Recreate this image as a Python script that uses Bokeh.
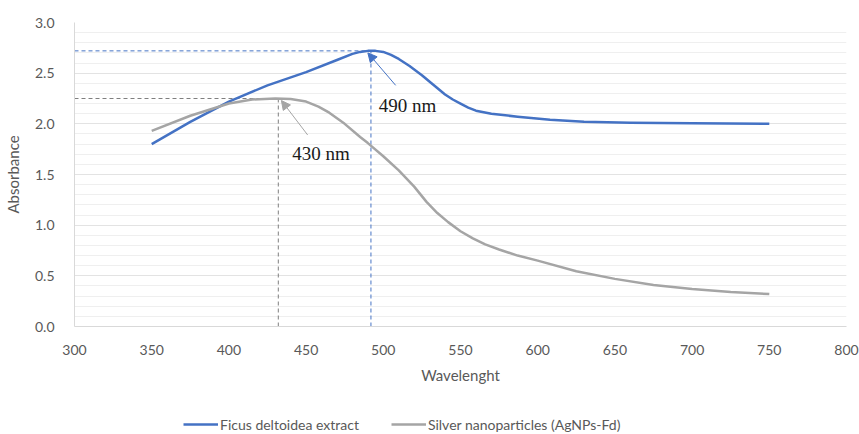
from bokeh.plotting import figure
from bokeh.layouts import column
from bokeh.models import (Range1d, Legend, LegendItem, Arrow, NormalHead,
                          SingleIntervalTicker, Label, NumeralTickFormatter)
from bokeh.embed import file_html
from bokeh.resources import INLINE

# Data
blue_wl = [350, 375, 400, 425, 450, 470, 480, 485, 490, 495, 500, 505, 510, 517, 525, 532, 540, 545, 550, 555, 560, 570, 587, 608, 630, 660, 700, 750]
blue_abs = [1.80, 2.02, 2.22, 2.38, 2.51, 2.63, 2.69, 2.71, 2.72, 2.72, 2.71, 2.68, 2.64, 2.57, 2.48, 2.39, 2.29, 2.24, 2.20, 2.16, 2.13, 2.10, 2.07, 2.04, 2.02, 2.01, 2.005, 2.00]

grey_wl = [350, 375, 400, 415, 430, 440, 450, 458, 465, 475, 485, 490, 500, 510, 520, 528, 535, 542, 550, 558, 566, 575, 587, 600, 625, 650, 675, 700, 725, 750]
grey_abs = [1.93, 2.08, 2.20, 2.24, 2.25, 2.245, 2.22, 2.17, 2.11, 2.00, 1.87, 1.81, 1.68, 1.54, 1.38, 1.23, 1.12, 1.03, 0.94, 0.87, 0.81, 0.76, 0.70, 0.65, 0.545, 0.47, 0.41, 0.37, 0.34, 0.32]

blue_peak = (492, 2.72)
grey_peak = (432, 2.25)
blue_label = "490 nm"
grey_label = "430 nm"
series_names = ["Ficus deltoidea extract", "Silver nanoparticles (AgNPs-Fd)"]

BLUE = "#4472C4"
GREY = "#A5A5A5"
TXT = "#595959"
FONT = "Lato"

p = figure(width=859, height=400, output_backend="svg", toolbar_location=None,
           x_range=Range1d(300, 800), y_range=Range1d(0, 3),
           min_border_left=74, min_border_right=13, min_border_top=22, min_border_bottom=74,
           x_axis_label="Wavelenght", y_axis_label="Absorbance")
p.outline_line_color = None
p.background_fill_color = "white"

p.xaxis.ticker = SingleIntervalTicker(interval=50)
p.yaxis.ticker = SingleIntervalTicker(interval=0.5, num_minor_ticks=5)
p.yaxis.formatter = NumeralTickFormatter(format="0.0")
for ax in (p.xaxis[0], p.yaxis[0]):
    ax.axis_line_color = "#D9D9D9"
    ax.major_tick_line_color = None
    ax.minor_tick_line_color = None
    ax.major_label_text_color = TXT
    ax.major_label_text_font = FONT
    ax.major_label_text_font_size = "14px"
    ax.axis_label_text_color = TXT
    ax.axis_label_text_font = FONT
    ax.axis_label_text_font_size = "15px"
    ax.axis_label_text_font_style = "normal"
p.xaxis.major_label_standoff = 12
p.yaxis.major_label_standoff = 14
p.xaxis.axis_label_standoff = 8
p.yaxis.axis_label_standoff = 10

p.xgrid.grid_line_color = None
p.ygrid.grid_line_color = "#E3E3E3"
p.ygrid.minor_grid_line_color = "#EFEFEF"

# dashed guides
p.line([300, blue_peak[0]], [blue_peak[1], blue_peak[1]], line_color=BLUE, line_dash="4 3", line_width=1)
p.line([blue_peak[0], blue_peak[0]], [0, blue_peak[1]], line_color=BLUE, line_dash="4 3", line_width=1)
p.line([300, grey_peak[0]], [grey_peak[1], grey_peak[1]], line_color="#7F7F7F", line_dash="4 3", line_width=1)
p.line([grey_peak[0], grey_peak[0]], [0, grey_peak[1]], line_color="#7F7F7F", line_dash="4 3", line_width=1)

r1 = p.line(blue_wl, blue_abs, line_color=BLUE, line_width=2.5, line_join="round")
r2 = p.line(grey_wl, grey_abs, line_color=GREY, line_width=2.5, line_join="round")

p.add_layout(Arrow(end=NormalHead(size=9, fill_color=BLUE, line_color=BLUE),
                   x_start=508, y_start=2.38, x_end=490, y_end=2.70,
                   line_color=BLUE, line_width=1))
p.add_layout(Arrow(end=NormalHead(size=9, fill_color=GREY, line_color=GREY),
                   x_start=451, y_start=1.89, x_end=434, y_end=2.23,
                   line_color=GREY, line_width=1))

p.add_layout(Label(x=497, y=2.18, text=blue_label, text_font="Liberation Serif",
                   text_font_size="19px", text_color="#1a1a1a", text_baseline="middle"))
p.add_layout(Label(x=441, y=1.71, text=grey_label, text_font="Liberation Serif",
                   text_font_size="19px", text_color="#1a1a1a", text_baseline="middle"))

# legend strip below the chart
lp = figure(width=859, height=34, output_backend="svg", toolbar_location=None,
            x_range=Range1d(0, 1), y_range=Range1d(0, 1),
            min_border=0, x_axis_location=None, y_axis_location=None)
lp.outline_line_color = None
lp.grid.grid_line_color = None
l1 = lp.line(blue_wl, blue_abs, line_color=BLUE, line_width=2.5)
l2 = lp.line(grey_wl, grey_abs, line_color=GREY, line_width=2.5)
legend = Legend(items=[LegendItem(label=series_names[0], renderers=[l1]),
                       LegendItem(label=series_names[1], renderers=[l2])],
                orientation="horizontal", location=(109, 0),
                border_line_alpha=0, background_fill_alpha=0,
                glyph_width=35, label_text_font=FONT, label_text_font_size="14px",
                label_text_color=TXT, spacing=32, padding=0, margin=0,
                label_standoff=2)
lp.add_layout(legend)

open("out.html", "w").write(file_html(column(p, lp, spacing=0), INLINE))
